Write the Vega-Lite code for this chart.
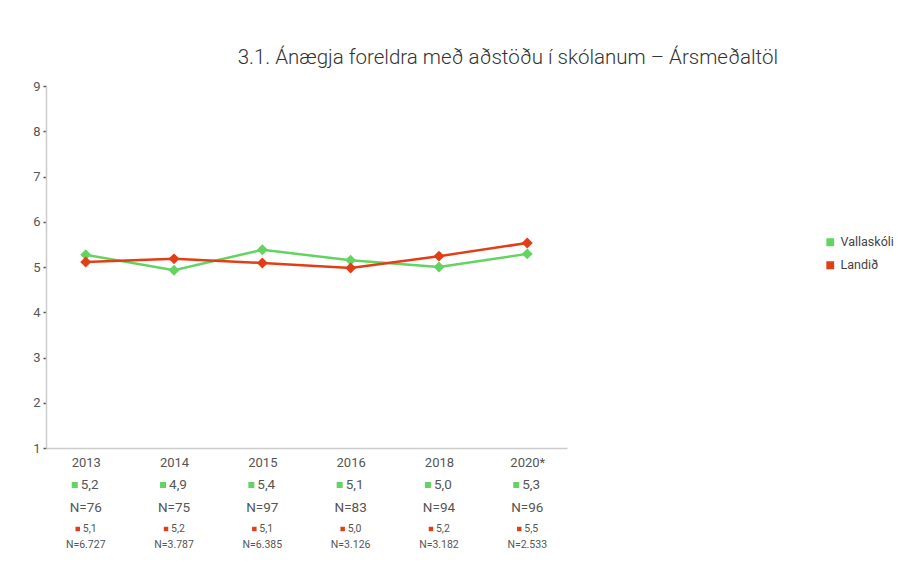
{
  "$schema": "https://vega.github.io/schema/vega-lite/v6.json",
  "width": 521,
  "height": 362,
  "autosize": {"type": "none"},
  "padding": {"left": 46, "top": 86, "right": 331, "bottom": 115},
  "background": "white",
  "config": {
    "font": "Roboto",
    "view": {"stroke": null}
  },
  "title": {
    "text": "3.1. Ánægja foreldra með aðstöðu í skólanum – Ársmeðaltöl",
    "anchor": "end",
    "frame": "group",
    "dx": 211,
    "offset": 12,
    "fontSize": 20.5,
    "fontWeight": 300,
    "color": "#333333",
    "font": "Roboto"
  },
  "data": {
    "values": [
      {"year": "2013", "series": "Vallaskóli", "value": 5.27, "label": "5,2", "n": "N=76"},
      {"year": "2014", "series": "Vallaskóli", "value": 4.93, "label": "4,9", "n": "N=75"},
      {"year": "2015", "series": "Vallaskóli", "value": 5.38, "label": "5,4", "n": "N=97"},
      {"year": "2016", "series": "Vallaskóli", "value": 5.15, "label": "5,1", "n": "N=83"},
      {"year": "2018", "series": "Vallaskóli", "value": 5.0, "label": "5,0", "n": "N=94"},
      {"year": "2020*", "series": "Vallaskóli", "value": 5.29, "label": "5,3", "n": "N=96"},
      {"year": "2013", "series": "Landið", "value": 5.11, "label": "5,1", "n": "N=6.727"},
      {"year": "2014", "series": "Landið", "value": 5.18, "label": "5,2", "n": "N=3.787"},
      {"year": "2015", "series": "Landið", "value": 5.09, "label": "5,1", "n": "N=6.385"},
      {"year": "2016", "series": "Landið", "value": 4.98, "label": "5,0", "n": "N=3.126"},
      {"year": "2018", "series": "Landið", "value": 5.24, "label": "5,2", "n": "N=3.182"},
      {"year": "2020*", "series": "Landið", "value": 5.53, "label": "5,5", "n": "N=2.533"}
    ]
  },
  "encoding": {
    "x": {
      "field": "year",
      "type": "nominal",
      "sort": null,
      "scale": {"type": "point", "padding": 0.45},
      "axis": {
        "title": null,
        "labelAngle": 0,
        "labelFontSize": 13,
        "labelColor": "#555555",
        "labelPadding": 8,
        "ticks": false,
        "domainColor": "#cccccc",
        "domainWidth": 1.5
      }
    }
  },
  "layer": [
    {
      "mark": {"type": "line", "strokeWidth": 2.5},
      "encoding": {
        "y": {
          "field": "value",
          "type": "quantitative",
          "scale": {"domain": [1, 9], "nice": false, "zero": false},
          "axis": {
            "title": null,
            "values": [1, 2, 3, 4, 5, 6, 7, 8, 9],
            "grid": false,
            "labelFontSize": 13,
            "labelColor": "#555555",
            "labelPadding": 3,
            "tickSize": 3,
            "tickWidth": 1.5,
            "tickColor": "#555555",
            "domainColor": "#cccccc",
            "domainWidth": 1.5
          }
        },
        "color": {
          "field": "series",
          "type": "nominal",
          "scale": {"domain": ["Vallaskóli", "Landið"], "range": ["#63d461", "#e23e15"]},
          "legend": {
            "title": null,
            "orient": "none",
            "legendX": 778,
            "legendY": 150,
            "symbolType": "square",
            "symbolSize": 40,
            "labelFontSize": 12.5,
            "labelColor": "#444444",
            "rowPadding": 10,
            "labelOffset": 4
          }
        }
      }
    },
    {
      "mark": {"type": "point", "shape": "diamond", "filled": true, "size": 120, "opacity": 1},
      "encoding": {
        "y": {"field": "value", "type": "quantitative"},
        "color": {"field": "series", "type": "nominal"}
      }
    },
    {
      "transform": [{"filter": "datum.series === 'Vallaskóli'"}],
      "mark": {"type": "point", "shape": "square", "filled": true, "size": 36, "opacity": 1, "xOffset": -11, "yOffset": 37, "color": "#63d461"},
      "encoding": {"y": {"datum": 1}}
    },
    {
      "transform": [{"filter": "datum.series === 'Vallaskóli'"}],
      "mark": {"type": "text", "align": "left", "baseline": "middle", "dx": -5, "dy": 37, "fontSize": 13.5, "color": "#555555"},
      "encoding": {"y": {"datum": 1}, "text": {"field": "label"}}
    },
    {
      "transform": [{"filter": "datum.series === 'Vallaskóli'"}],
      "mark": {"type": "text", "align": "center", "baseline": "middle", "dy": 60, "fontSize": 13.5, "color": "#555555"},
      "encoding": {"y": {"datum": 1}, "text": {"field": "n"}}
    },
    {
      "transform": [{"filter": "datum.series === 'Landið'"}],
      "mark": {"type": "point", "shape": "square", "filled": true, "size": 20, "opacity": 1, "xOffset": -8, "yOffset": 81, "color": "#e23e15"},
      "encoding": {"y": {"datum": 1}}
    },
    {
      "transform": [{"filter": "datum.series === 'Landið'"}],
      "mark": {"type": "text", "align": "left", "baseline": "middle", "dx": -3, "dy": 81, "fontSize": 10.5, "color": "#555555"},
      "encoding": {"y": {"datum": 1}, "text": {"field": "label"}}
    },
    {
      "transform": [{"filter": "datum.series === 'Landið'"}],
      "mark": {"type": "text", "align": "center", "baseline": "middle", "dy": 97, "fontSize": 10.5, "color": "#555555"},
      "encoding": {"y": {"datum": 1}, "text": {"field": "n"}}
    }
  ]
}
